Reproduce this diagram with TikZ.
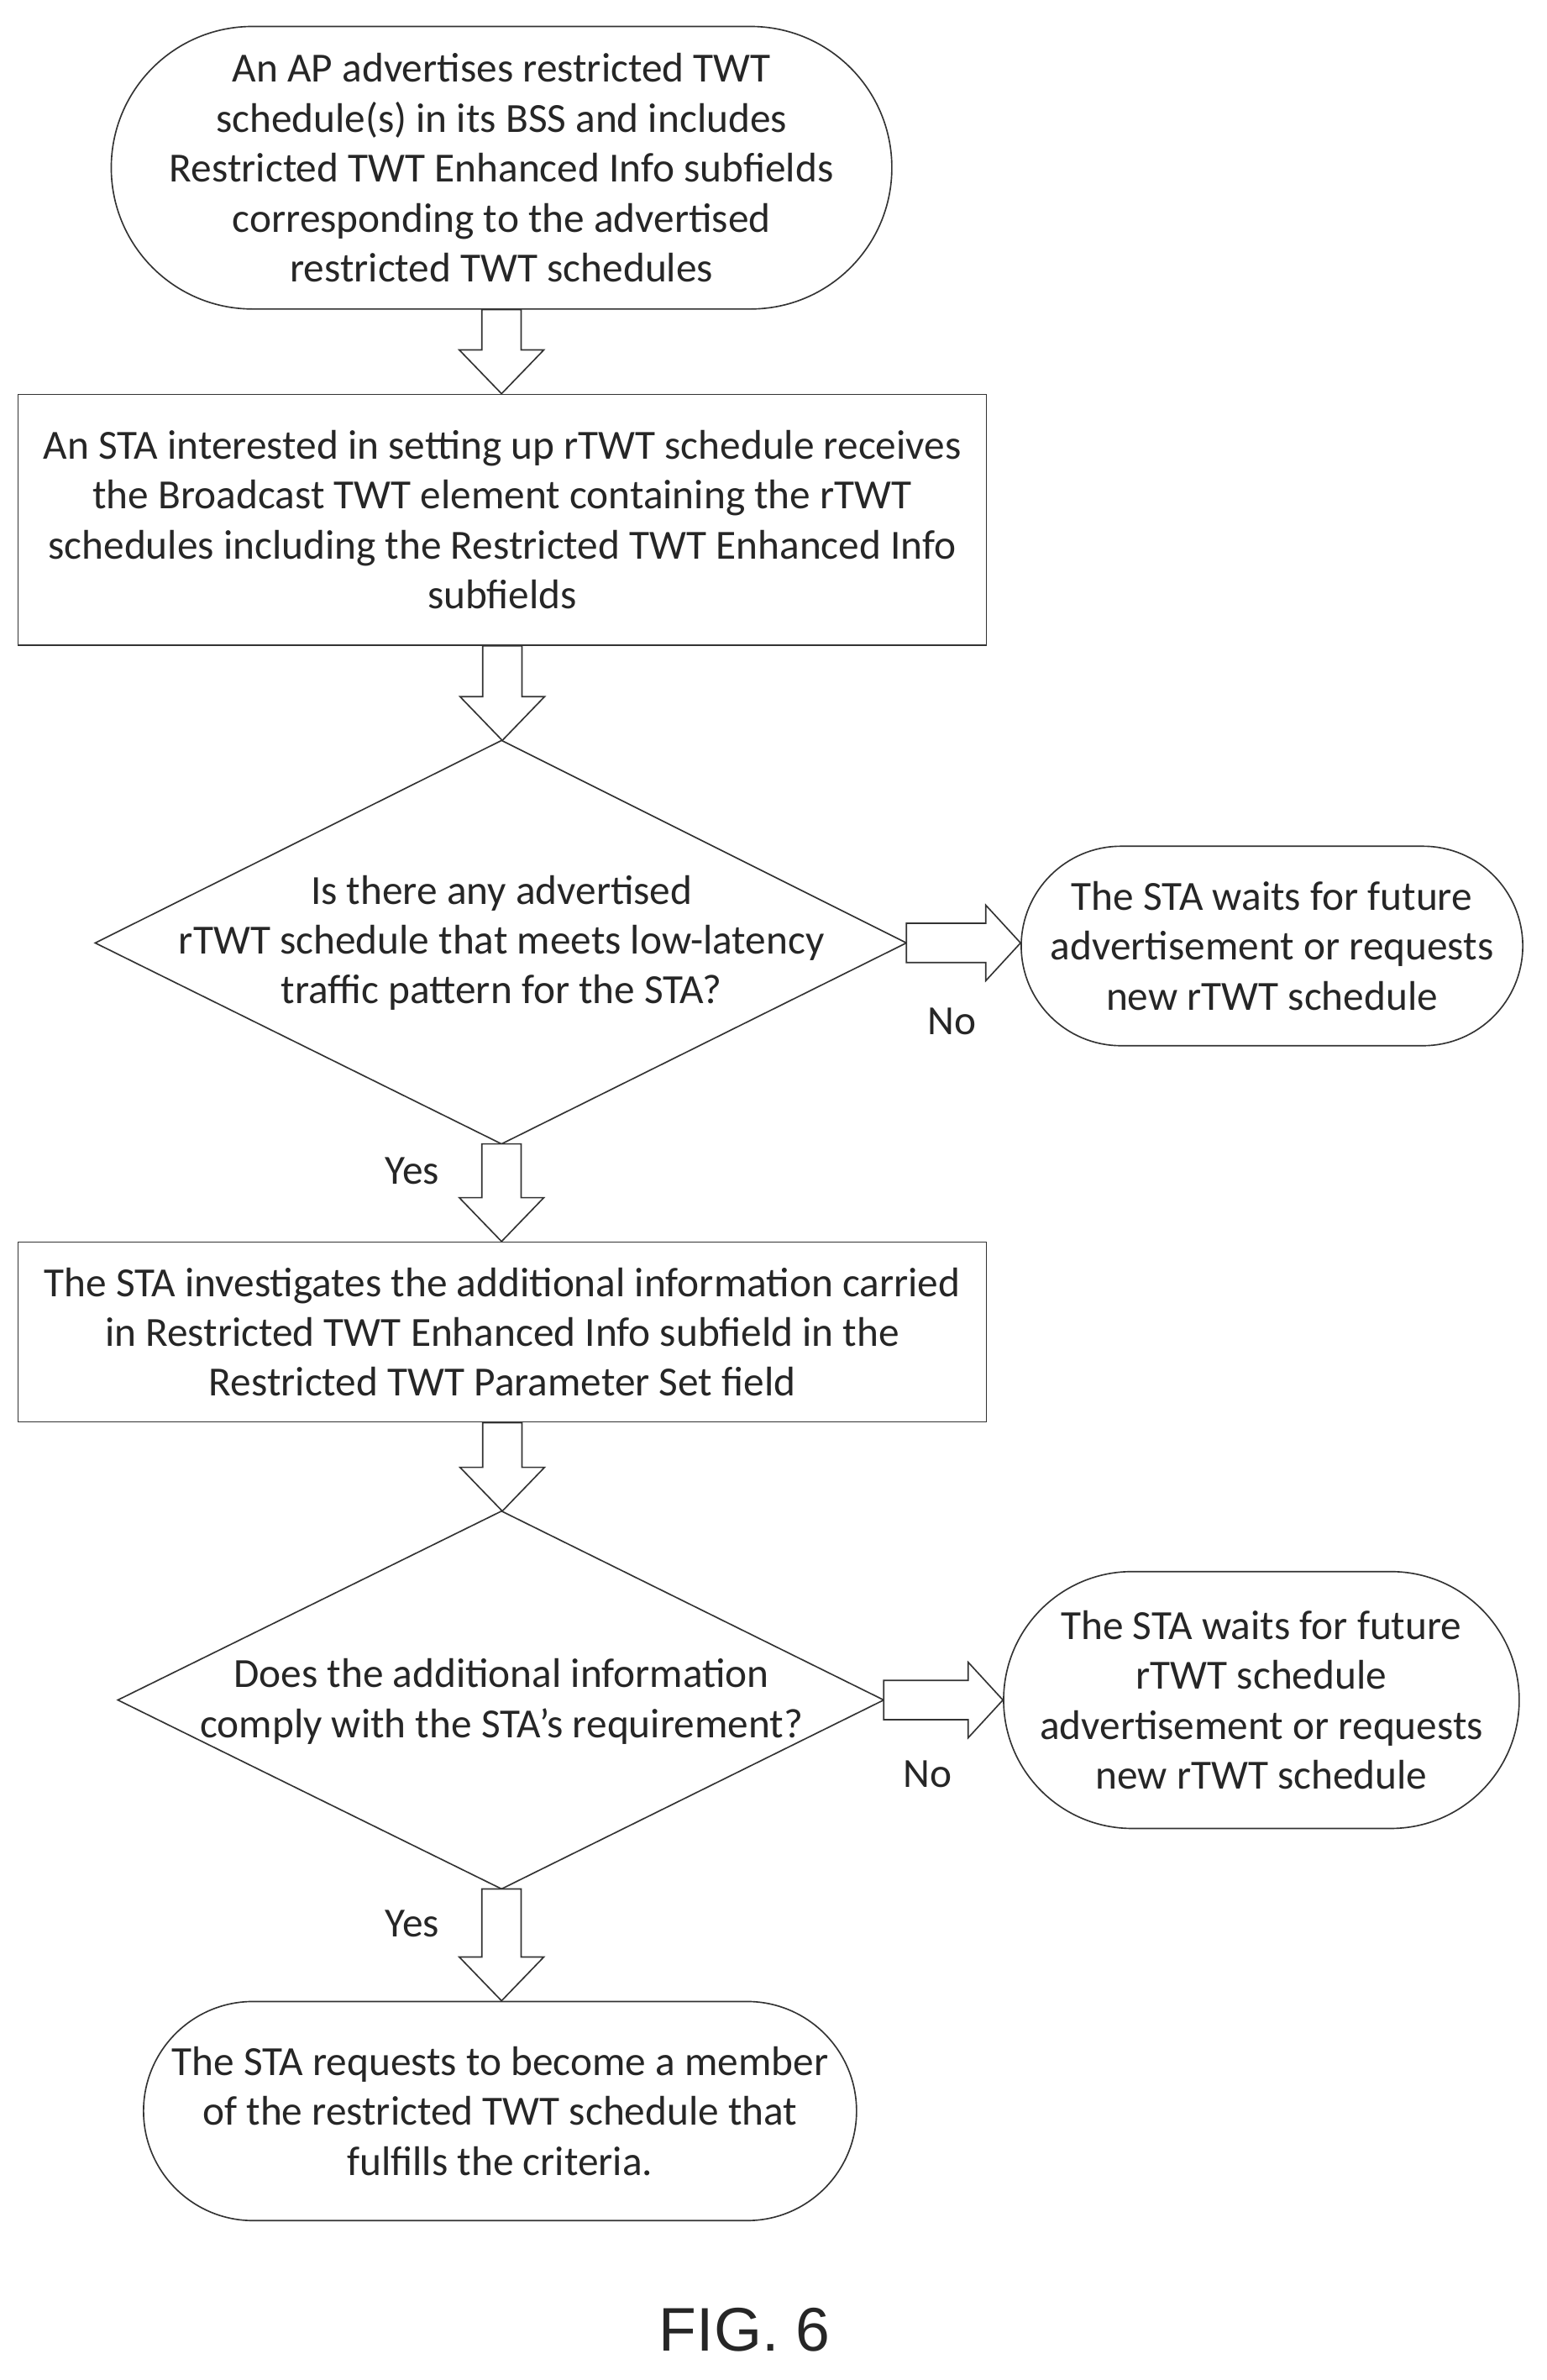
\documentclass[tikz,border=0pt]{standalone}
\usepackage{fontspec}
\setmainfont{Carlito}
\newfontfamily\figfont{Liberation Sans}
\usetikzlibrary{shapes.misc,calc}
\begin{document}
\begin{tikzpicture}[x=0.05cm,y=-0.05cm,
  every node/.style={font=\fontsize{39}{47}\selectfont,align=center,text=black!85},
  ln/.style={draw=black!80,line width=1.3pt},
  term/.style={ln,rounded rectangle,inner sep=0pt},
  box/.style={ln,rectangle,inner sep=0pt},
  blk/.style={ln,fill=white}]
\newcommand\blockdown[2]{\draw[blk] let \p1=(#1),\p2=(#2) in
  (\x1-0.65cm,\y1) -- (\x1-0.65cm,\y2+1.45cm) -- (\x1-1.4cm,\y2+1.45cm) -- (\x1,\y2)
  -- (\x1+1.4cm,\y2+1.45cm) -- (\x1+0.65cm,\y2+1.45cm) -- (\x1+0.65cm,\y1) -- cycle;}
\newcommand\blockright[2]{\draw[blk] let \p1=(#1),\p2=(#2) in
  (\x1,\y1+0.65cm) -- (\x2-1.15cm,\y1+0.65cm) -- (\x2-1.15cm,\y1+1.25cm) -- (\x2,\y1)
  -- (\x2-1.15cm,\y1-1.25cm) -- (\x2-1.15cm,\y1-0.65cm) -- (\x1,\y1-0.65cm) -- cycle;}
\useasboundingbox (0,0) rectangle (1024,1575);
\fill[white] (0,0) rectangle (1024,1575);

\node[term,minimum width=23.6cm,minimum height=9.35cm] (t1) at (332,111)
 {An AP advertises restricted TWT\\schedule(s) in its BSS and includes\\Restricted TWT Enhanced Info subfields\\corresponding to the advertised\\restricted TWT schedules};
\node[box,minimum width=32.05cm,minimum height=8.3cm] (r1) at (332.5,344)
 {An STA interested in setting up rTWT schedule receives\\the Broadcast TWT element containing the rTWT\\schedules including the Restricted TWT Enhanced Info\\subfields};
\coordinate (d1t) at (332,490); \coordinate (d1r) at (600,624);
\coordinate (d1b) at (332,757); \coordinate (d1l) at (63,624);
\draw[ln] (d1t) -- (d1r) -- (d1b) -- (d1l) -- cycle;
\node (d1) at (332,624) {Is there any advertised\\rTWT schedule that meets low-latency\\traffic pattern for the STA?};
\node[term,minimum width=16.6cm,minimum height=6.6cm] (t2) at (842,626)
 {The STA waits for future\\advertisement or requests\\new rTWT schedule};
\node[box,minimum width=32.05cm,minimum height=5.95cm] (r2) at (332.5,881.5)
 {The STA investigates the additional information carried\\in Restricted TWT Enhanced Info subfield in the\\Restricted TWT Parameter Set field};
\coordinate (d2t) at (332,1000); \coordinate (d2r) at (585,1125);
\coordinate (d2b) at (332,1250); \coordinate (d2l) at (78,1125);
\draw[ln] (d2t) -- (d2r) -- (d2b) -- (d2l) -- cycle;
\node (d2) at (332,1126) {Does the additional information\\comply with the STA’s requirement?};
\node[term,minimum width=17cm,minimum height=8.5cm] (t3) at (835,1125)
 {The STA waits for future\\rTWT schedule\\advertisement or requests\\new rTWT schedule};
\node[term,minimum width=23.6cm,minimum height=7.25cm] (t4) at (331,1397)
 {The STA requests to become a member\\of the restricted TWT schedule that\\fulfills the criteria.};

\blockdown{t1.south}{r1.north}
\blockdown{r1.south}{d1t}
\blockdown{d1b}{r2.north}
\blockdown{r2.south}{d2t}
\blockdown{d2b}{t4.north}
\blockright{d1r}{t2.west}
\blockright{d2r}{t3.west}

\node (no1) at (630,676) {No};
\node (no2) at (614,1174) {No};
\node (y1) at (273,775) {Yes};
\node (y2) at (273,1273) {Yes};
\node[font=\figfont\fontsize{58}{64}\selectfont] (fig) at (493,1542) {FIG. 6};
\end{tikzpicture}
\end{document}
